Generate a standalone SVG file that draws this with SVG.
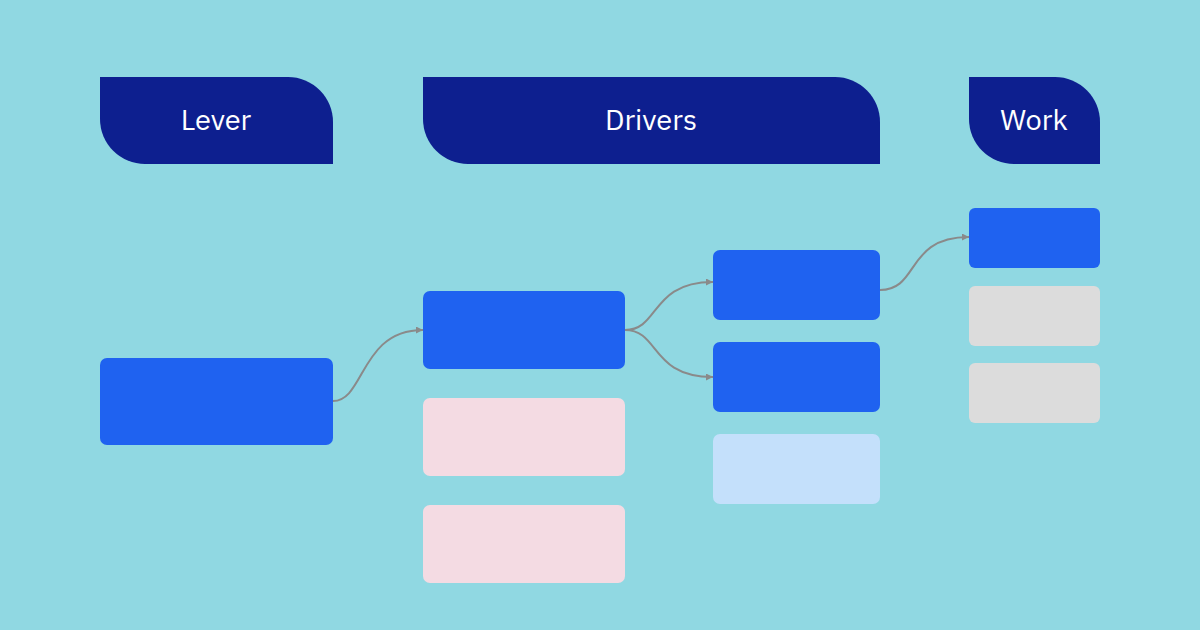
<svg xmlns="http://www.w3.org/2000/svg" width="1200" height="630" viewBox="0 0 1200 630">
<style>
.hd{fill:#0d1f8f}
.ht{fill:#ffffff;font-family:"IBM Plex Sans","Liberation Sans",sans-serif;font-size:29px;text-anchor:middle}
.blue{fill:#1f62f0}
.pink{fill:#f4dbe3}
.lb{fill:#c4e0fb}
.gray{fill:#dcdcdc}
.c{fill:none;stroke:#8a8a8a;stroke-width:2}
</style>
<defs>
<marker id="ar" viewBox="0 0 10 10" refX="10" refY="5" markerWidth="7" markerHeight="7" orient="auto" markerUnits="userSpaceOnUse">
<path d="M0,0L10,5L0,10z" fill="#8a8a8a"/>
</marker>
</defs>
<rect width="1200" height="630" fill="#90d8e2"/>
<g id="h-lever"><path class="hd" d="M100,77H288A45,45 0 0 1 333,122V164H145A45,45 0 0 1 100,119Z"/><text class="ht" x="216" y="130">Lever</text></g>
<g id="h-drivers"><path class="hd" d="M423,77H835A45,45 0 0 1 880,122V164H468A45,45 0 0 1 423,119Z"/><text class="ht" x="651" y="130">Drivers</text></g>
<g id="h-work"><path class="hd" d="M969,77H1055A45,45 0 0 1 1100,122V164H1014A45,45 0 0 1 969,119Z"/><text class="ht" x="1034" y="130">Work</text></g>
<g id="lever1"><rect class="blue" x="100" y="358" width="233" height="87" rx="7"/></g>
<g id="d1"><rect class="blue" x="423" y="291" width="202" height="78" rx="7"/></g>
<g id="d2"><rect class="pink" x="423" y="398" width="202" height="78" rx="7"/></g>
<g id="d3"><rect class="pink" x="423" y="505" width="202" height="78" rx="7"/></g>
<g id="e1"><rect class="blue" x="713" y="250" width="167" height="70" rx="7"/></g>
<g id="e2"><rect class="blue" x="713" y="342" width="167" height="70" rx="7"/></g>
<g id="e3"><rect class="lb" x="713" y="434" width="167" height="70" rx="7"/></g>
<g id="w1"><rect class="blue" x="969" y="208" width="131" height="60" rx="6"/></g>
<g id="w2"><rect class="gray" x="969" y="286" width="131" height="60" rx="6"/></g>
<g id="w3"><rect class="gray" x="969" y="363" width="131" height="60" rx="6"/></g>
<g id="connectors">
<path class="c" marker-end="url(#ar)" d="M333,401C365,401 360,330 423,330"/>
<path class="c" marker-end="url(#ar)" d="M625,330C660,330 650,282 713,282"/>
<path class="c" marker-end="url(#ar)" d="M625,330C660,330 650,377 713,377"/>
<path class="c" marker-end="url(#ar)" d="M880,290C920,290 905,237 969,237"/>
</g>
</svg>
